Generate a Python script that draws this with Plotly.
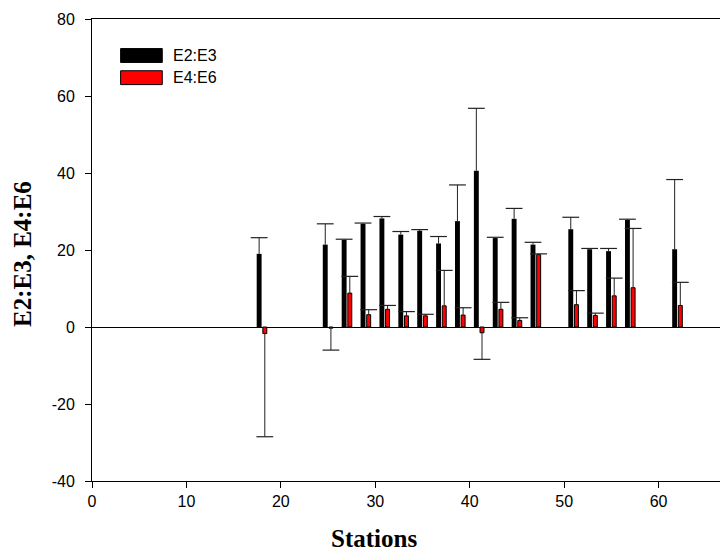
import plotly.graph_objects as go

# ---- data ----
stations = [18, 25, 27, 29, 31, 33, 35, 37, 39, 41, 43, 45, 47, 51, 53, 55, 57, 62]
e2e3 = [19.0, 21.4, 22.6, 26.8, 28.2, 24.0, 25.0, 21.7, 27.5, 40.6, 23.1, 28.1, 21.4, 25.4, 20.2, 19.7, 27.8, 20.2]
e2e3_err = [4.2, 5.4, 0.2, 0.2, 0.5, 0.8, 0.3, 1.8, 9.4, 16.2, 0.2, 2.7, 0.6, 3.1, 0.2, 0.7, 0.2, 18.1]
e4e6 = [-1.7, -0.3, 8.8, 3.2, 4.6, 2.9, 2.9, 5.5, 3.1, -1.5, 4.6, 1.7, 18.8, 5.8, 3.0, 8.1, 10.2, 5.6]
e4e6_err = [26.8, 5.7, 4.35, 1.3, 1.0, 1.1, 0.4, 9.2, 1.9, 6.9, 1.8, 0.7, 0.2, 3.65, 0.6, 4.6, 15.4, 6.0]

series_names = ["E2:E3", "E4:E6"]
x_ticks = [0, 10, 20, 30, 40, 50, 60]
y_ticks = [-40, -20, 0, 20, 40, 60, 80]
y_tick_labels = ["-40", "-20", "0", "20", "40", "60", "80"]

BLACK_SHIFT = -0.3
RED_SHIFT = 0.3
ERR_COLOR = "#222222"


def err_segments(xs, vals, errs, shift):
    sx, sy, cx, cy = [], [], [], []
    for x, v, e in zip(xs, vals, errs):
        end = v + e if v >= 0 else v - e
        sx += [x + shift, x + shift, None]
        sy += [v, end, None]
        cx.append(x + shift)
        cy.append(end)
    return sx, sy, cx, cy


fig = go.Figure()

fig.add_trace(go.Bar(
    x=stations, y=e2e3, name=series_names[0],
    width=0.52, offset=BLACK_SHIFT - 0.26,
    marker=dict(color="black", line=dict(color="black", width=0)),
))
fig.add_trace(go.Bar(
    x=stations, y=e4e6, name=series_names[1],
    width=0.42, offset=RED_SHIFT - 0.21,
    marker=dict(color="#ff0000", line=dict(color="black", width=1)),
))

for vals, errs, shift in [(e2e3, e2e3_err, BLACK_SHIFT), (e4e6, e4e6_err, RED_SHIFT)]:
    sx, sy, cx, cy = err_segments(stations, vals, errs, shift)
    fig.add_trace(go.Scatter(x=sx, y=sy, mode="lines",
                             line=dict(color=ERR_COLOR, width=1),
                             hoverinfo="skip", showlegend=False))
    fig.add_trace(go.Scatter(x=cx, y=cy, mode="markers",
                             marker=dict(symbol="line-ew", size=12,
                                         line=dict(color=ERR_COLOR, width=1.2)),
                             hoverinfo="skip", showlegend=False))

tick_font = dict(family="Liberation Sans, Arial, sans-serif", size=16, color="black")
title_font = dict(family="Liberation Serif, Times New Roman, serif", size=25, color="black")

fig.update_layout(
    width=720, height=550,
    margin=dict(l=84, r=0, t=11, b=77, pad=0),
    paper_bgcolor="white", plot_bgcolor="white",
    showlegend=False,
    barmode="overlay",
    xaxis=dict(range=[0, 67.35], tickvals=x_ticks, ticks="outside", ticklen=6,
               tickcolor="black", showline=True, linecolor="black", linewidth=1,
               mirror=True, showgrid=False, zeroline=False, tickfont=tick_font),
    yaxis=dict(range=[-40, 80], tickvals=y_ticks, ticktext=y_tick_labels,
               ticks="outside", ticklen=6, ticklabelstandoff=7,
               tickcolor="black", showline=True, linecolor="black", linewidth=1,
               showgrid=False, zeroline=True, zerolinecolor="black", zerolinewidth=1,
               tickfont=tick_font),
)

# axis titles
fig.add_annotation(text="<b>Stations</b>", xref="paper", yref="paper",
                   x=(374 - 92) / 636, y=-0.125, showarrow=False,
                   xanchor="center", yanchor="middle", font=title_font)
fig.add_annotation(text="<b>E2:E3, E4:E6</b>", xref="paper", yref="paper",
                   x=(23 - 92) / 636, y=(481 - 254) / 462, showarrow=False,
                   textangle=-90, xanchor="center", yanchor="middle", font=title_font)

# legend
legend_items = [(series_names[0], "black", 0.936, 0.906), (series_names[1], "#ff0000", 0.888, 0.858)]
for name, col, y1, y0 in legend_items:
    fig.add_shape(type="rect", xref="paper", yref="paper",
                  x0=0.045, x1=0.1105, y0=y0, y1=y1,
                  fillcolor=col, line=dict(color="black", width=1))
    fig.add_annotation(text=name, xref="paper", yref="paper",
                       x=0.124, y=(y0 + y1) / 2, showarrow=False,
                       xanchor="left", yanchor="middle", font=tick_font)

fig.write_html("out.html")
